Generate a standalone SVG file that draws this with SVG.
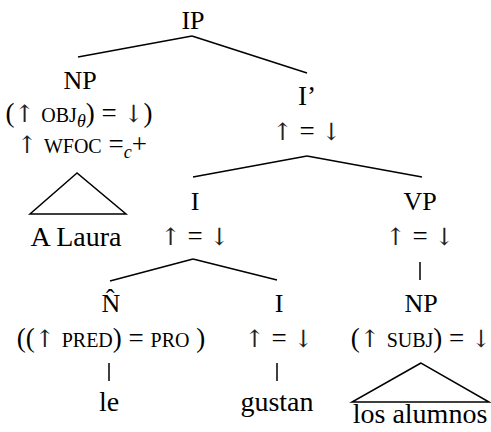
<svg xmlns="http://www.w3.org/2000/svg" width="491" height="432" viewBox="0 0 491 432">
<style>
text{font-family:'Liberation Serif','Times New Roman',serif;font-size:26px;fill:#000;text-anchor:middle}
.ann{font-size:27px}
.leaf{font-size:28px}
.sc{font-size:20px}
.it{font-style:italic;font-size:18px}
.ar{font-family:'DejaVu Serif',serif;font-size:24px;fill:#222}
line,path{stroke:#000;stroke-width:1.5;fill:none}
</style>
<rect width="491" height="432" fill="#fff"/>
<g id="connectors">
<line x1="192" y1="36" x2="78" y2="57"/>
<line x1="192" y1="36" x2="307" y2="73"/>
<line x1="307" y1="156" x2="193" y2="177"/>
<line x1="307" y1="156" x2="422" y2="177"/>
<line x1="193" y1="259" x2="110" y2="281"/>
<line x1="193" y1="259" x2="277" y2="280"/>
<line x1="420" y1="262" x2="420" y2="280"/>
<line x1="109" y1="363" x2="109" y2="381"/>
<line x1="277" y1="363" x2="277" y2="381"/>
<path d="M77,173 L30,214 L126,214 Z"/>
<path d="M421,363 L352,402 L489,402 Z"/>
</g>
<g id="IP"><text x="193" y="29">IP</text></g>
<g id="NP1">
<text x="80" y="89">NP</text>
<text class="ann" x="79" y="122">(<tspan class="ar">↑</tspan> <tspan class="sc">OBJ</tspan><tspan class="it" dy="5">θ</tspan><tspan dy="-5">) = </tspan><tspan class="ar">↓</tspan>)</text>
<text class="ann" x="82" y="153"><tspan class="ar">↑</tspan> <tspan class="sc">WFOC</tspan> =<tspan class="it" dy="5">c</tspan><tspan dy="-5">+</tspan></text>
</g>
<g id="ALaura"><text class="leaf" x="76" y="246">A Laura</text></g>
<g id="Ibar">
<text class="ann" x="307" y="105">I’</text>
<text class="ann" x="307" y="140"><tspan class="ar">↑</tspan> = <tspan class="ar">↓</tspan></text>
</g>
<g id="I1">
<text x="195" y="210">I</text>
<text class="ann" x="195" y="245"><tspan class="ar">↑</tspan> = <tspan class="ar">↓</tspan></text>
</g>
<g id="VP">
<text x="420" y="210">VP</text>
<text class="ann" x="420" y="245"><tspan class="ar">↑</tspan> = <tspan class="ar">↓</tspan></text>
</g>
<g id="Nhat">
<text x="111" y="312">N̂</text>
<text class="ann" x="111" y="347">((<tspan class="ar">↑</tspan> <tspan class="sc">PRED</tspan>) = <tspan class="sc">PRO</tspan> )</text>
</g>
<g id="le"><text class="leaf" x="109" y="411">le</text></g>
<g id="I2">
<text x="279" y="312">I</text>
<text class="ann" x="279" y="347"><tspan class="ar">↑</tspan> = <tspan class="ar">↓</tspan></text>
</g>
<g id="gustan"><text class="leaf" x="277" y="411">gustan</text></g>
<g id="NP2">
<text x="421" y="312">NP</text>
<text class="ann" x="421" y="347">(<tspan class="ar">↑</tspan> <tspan class="sc">SUBJ</tspan>) = <tspan class="ar">↓</tspan></text>
</g>
<g id="losalumnos"><text class="leaf" x="420" y="423">los alumnos</text></g>
</svg>
